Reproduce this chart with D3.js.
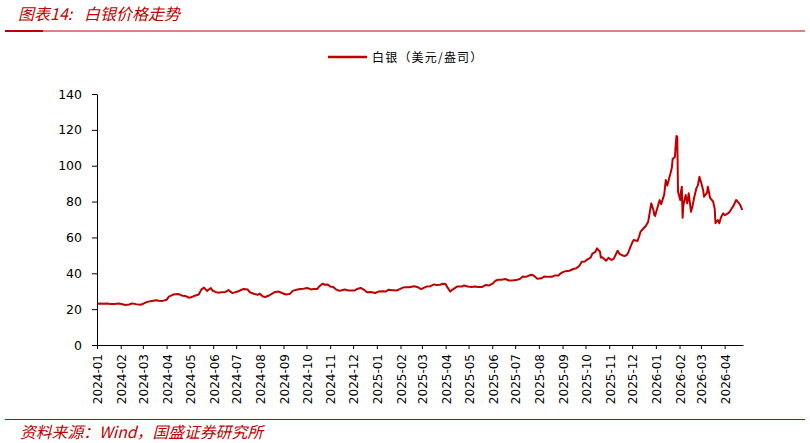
<!DOCTYPE html>
<html>
<head>
<meta charset="utf-8">
<script src="https://cdn.jsdelivr.net/npm/d3@7"></script>
<style>
  body { margin: 0; background: #fff; }
  svg { display: block; }
</style>
</head>
<body>
<div id="chart"></div>
<script>
// silver price, USD/oz
const dates = [
  "2024-01-02","2024-01-05","2024-01-10","2024-01-15","2024-01-19","2024-01-24","2024-01-29",
  "2024-02-02","2024-02-07","2024-02-12","2024-02-16","2024-02-21","2024-02-26","2024-02-29",
  "2024-03-04","2024-03-08","2024-03-13","2024-03-18","2024-03-22","2024-03-27",
  "2024-04-01","2024-04-04","2024-04-09","2024-04-12","2024-04-17","2024-04-22","2024-04-26","2024-04-30",
  "2024-05-03","2024-05-08","2024-05-13","2024-05-17","2024-05-20","2024-05-24","2024-05-29","2024-05-31",
  "2024-06-04","2024-06-07","2024-06-12","2024-06-17","2024-06-21","2024-06-26","2024-06-28",
  "2024-07-03","2024-07-08","2024-07-11","2024-07-16","2024-07-19","2024-07-24","2024-07-29",
  "2024-08-01","2024-08-05","2024-08-08","2024-08-13","2024-08-16","2024-08-21","2024-08-26","2024-08-30",
  "2024-09-04","2024-09-09","2024-09-13","2024-09-18","2024-09-23","2024-09-27",
  "2024-10-02","2024-10-07","2024-10-10","2024-10-15","2024-10-18","2024-10-22","2024-10-25","2024-10-29",
  "2024-11-01","2024-11-05","2024-11-08","2024-11-13","2024-11-15","2024-11-20","2024-11-25","2024-11-29",
  "2024-12-03","2024-12-06","2024-12-11","2024-12-16","2024-12-19","2024-12-24","2024-12-30",
  "2025-01-03","2025-01-08","2025-01-13","2025-01-16","2025-01-22","2025-01-27","2025-01-31",
  "2025-02-04","2025-02-07","2025-02-12","2025-02-14","2025-02-19","2025-02-24","2025-02-28",
  "2025-03-04","2025-03-07","2025-03-12","2025-03-17","2025-03-20","2025-03-25","2025-03-28",
  "2025-04-01","2025-04-03","2025-04-07","2025-04-09","2025-04-11","2025-04-16","2025-04-22","2025-04-25","2025-04-30",
  "2025-05-05","2025-05-09","2025-05-14","2025-05-19","2025-05-23","2025-05-28",
  "2025-06-02","2025-06-05","2025-06-09","2025-06-13","2025-06-18","2025-06-23","2025-06-27",
  "2025-07-02","2025-07-07","2025-07-11","2025-07-15","2025-07-22","2025-07-25","2025-07-30",
  "2025-08-04","2025-08-08","2025-08-13","2025-08-18","2025-08-22","2025-08-27","2025-08-29",
  "2025-09-02","2025-09-05","2025-09-10","2025-09-15","2025-09-19","2025-09-23","2025-09-26","2025-09-30",
  "2025-10-03","2025-10-06","2025-10-08","2025-10-10","2025-10-14","2025-10-16","2025-10-20","2025-10-21","2025-10-23","2025-10-28","2025-10-31",
  "2025-11-04","2025-11-07","2025-11-12","2025-11-14","2025-11-17","2025-11-21","2025-11-24","2025-11-26","2025-11-28",
  "2025-12-01","2025-12-03","2025-12-08","2025-12-10","2025-12-12","2025-12-16","2025-12-19","2025-12-22","2025-12-26","2025-12-29","2025-12-30","2025-12-31",
  "2026-01-02","2026-01-06","2026-01-08","2026-01-12","2026-01-13","2026-01-14","2026-01-16","2026-01-19","2026-01-20","2026-01-22","2026-01-23","2026-01-26","2026-01-27","2026-01-28","2026-01-29","2026-01-30",
  "2026-02-02","2026-02-03","2026-02-04","2026-02-05","2026-02-06","2026-02-09","2026-02-11","2026-02-13","2026-02-16","2026-02-18","2026-02-20","2026-02-23","2026-02-25","2026-02-27",
  "2026-03-02","2026-03-04","2026-03-05","2026-03-09","2026-03-10","2026-03-13","2026-03-17","2026-03-19","2026-03-20","2026-03-23","2026-03-24","2026-03-25","2026-03-27","2026-03-30",
  "2026-04-01","2026-04-03","2026-04-07","2026-04-09","2026-04-13","2026-04-16","2026-04-20","2026-04-22","2026-04-24"
];

const silver = [
  23.0,23.2,23.0,23.2,22.8,22.9,23.2,
  22.9,22.3,22.6,23.2,22.8,22.5,22.7,
  23.6,24.2,24.6,25.0,24.7,24.6,
  25.2,27.0,28.0,28.3,28.4,27.4,27.3,26.4,
  26.6,27.5,28.2,31.2,32.0,30.2,31.8,30.4,
  29.6,29.2,29.4,29.6,30.6,29.0,29.2,
  29.8,30.8,31.2,31.0,29.4,28.6,28.0,
  28.6,27.0,26.8,27.6,28.4,29.6,29.8,29.0,
  28.2,28.4,30.2,30.8,31.2,31.4,
  31.8,31.0,31.2,31.2,32.8,34.2,33.6,33.8,
  32.6,32.4,31.2,30.2,30.4,31.0,30.4,30.4,
  30.4,31.2,31.8,30.6,29.4,29.6,29.0,
  29.8,30.0,29.8,30.8,30.6,30.4,31.2,
  32.0,32.2,32.2,32.4,32.8,32.2,31.2,
  32.0,32.6,32.8,33.8,33.4,33.6,34.2,
  34.0,32.4,29.8,30.6,31.2,32.6,32.6,33.2,32.6,
  32.4,32.6,32.4,32.4,33.4,33.2,
  34.4,35.8,36.4,36.4,36.8,36.0,36.0,
  36.2,36.8,38.2,38.0,39.2,38.8,37.0,
  37.2,38.2,38.0,38.0,38.8,38.8,39.8,
  40.8,41.2,41.4,42.4,42.8,44.2,46.4,46.6,
  47.6,48.3,49.0,51.0,52.0,53.9,52.0,48.8,48.9,47.0,48.6,
  47.4,48.2,52.6,51.0,50.2,49.6,50.2,51.6,53.9,
  57.0,58.6,58.0,60.4,63.2,65.1,66.5,68.8,79.0,75.0,72.5,72.0,
  75.0,80.8,78.6,84.0,88.0,92.0,89.0,94.0,95.5,99.0,103.8,105.0,112.0,116.6,116.2,85.5,
  80.8,86.0,88.3,71.0,78.0,83.7,79.0,84.6,74.3,77.5,82.0,87.4,89.2,93.8,
  89.5,86.0,82.7,85.0,88.3,82.0,79.9,76.0,67.9,69.7,68.8,67.9,71.0,73.4,
  72.5,72.8,74.0,75.3,78.0,80.9,79.0,77.5,75.3
];

const yTicks = [0, 20, 40, 60, 80, 100, 120, 140];
const seriesName = "白银（美元/盎司）";
const titleHead = "图表14:";
const titleText = "白银价格走势";
const sourceText = "资料来源：Wind，国盛证券研究所";

const red = "#c00000";
const cjk = "'Noto Sans CJK SC', sans-serif";
const num = "'DejaVu Sans', sans-serif";

var W = 810, H = 443;
var margin = {top: 94, right: 67, bottom: 98, left: 97};

var svg = d3.select("#chart")
  .append("svg")
    .attr("width", W)
    .attr("height", H);

var parse = d3.timeParse("%Y-%m-%d");
var data = dates.map((d, i) => ({date: parse(d), value: silver[i]}));

// header
svg.append("text")
  .attr("x", 18).attr("y", 20)
  .style("font", "italic 16px " + cjk)
  .style("fill", red)
  .text(titleHead);
svg.append("text")
  .attr("x", 84).attr("y", 20)
  .style("font", "italic 16px " + cjk)
  .style("fill", red)
  .text(titleText);

svg.append("line")
  .attr("x1", 5).attr("x2", 805)
  .attr("y1", 31).attr("y2", 31)
  .attr("stroke", red).attr("stroke-width", 1);
svg.append("line")
  .attr("x1", 5).attr("x2", 43)
  .attr("y1", 31).attr("y2", 31)
  .attr("stroke", red).attr("stroke-width", 2);

// footer
svg.append("line")
  .attr("x1", 5).attr("x2", 805)
  .attr("y1", 419.5).attr("y2", 419.5)
  .attr("stroke", red).attr("stroke-width", 1);

svg.append("text")
  .attr("x", 20).attr("y", 438)
  .style("font", "italic 15.8px " + cjk)
  .style("fill", red)
  .text(sourceText);

// scales
var x = d3.scaleTime()
  .domain([parse("2024-01-01"), parse("2026-04-25")])
  .range([margin.left, W - margin.right]);

var y = d3.scaleLinear()
  .domain([0, 140])
  .range([H - margin.bottom, margin.top]);

// y axis
var yAxis = svg.append("g")
  .attr("transform", "translate(" + margin.left + ",0)")
  .call(d3.axisLeft(y).tickValues(yTicks).tickSize(5).tickSizeOuter(0).tickPadding(10));
yAxis.select(".domain").attr("stroke", "#000");
yAxis.selectAll(".tick line").attr("stroke", "#000");
yAxis.selectAll("text")
  .style("font", "12.5px " + num)
  .style("fill", "#000");

// x axis
var xAxis = svg.append("g")
  .attr("transform", "translate(0," + (H - margin.bottom) + ")")
  .call(d3.axisBottom(x)
    .ticks(d3.timeMonth.every(1))
    .tickFormat(d3.timeFormat("%Y-%m"))
    .tickSize(4)
    .tickSizeOuter(0));
xAxis.select(".domain").attr("stroke", "#000");
xAxis.selectAll(".tick line").attr("stroke", "#000");
xAxis.selectAll("text")
  .style("font", "12px " + num)
  .style("fill", "#000")
  .style("text-anchor", "end")
  .attr("transform", "rotate(-90)")
  .attr("x", -9)
  .attr("y", 0)
  .attr("dy", "0.4em");

// line
svg.append("path")
  .datum(data)
  .attr("fill", "none")
  .attr("stroke", red)
  .attr("stroke-width", 2)
  .attr("stroke-linejoin", "round")
  .attr("d", d3.line()
    .x(d => x(d.date))
    .y(d => y(d.value)));

// legend
var legend = svg.append("g");
legend.append("line")
  .attr("x1", 328).attr("x2", 367)
  .attr("y1", 57).attr("y2", 57)
  .attr("stroke", red).attr("stroke-width", 2.5);
legend.append("text")
  .attr("x", 372).attr("y", 61.5)
  .style("font", "12px " + cjk)
  .style("letter-spacing", "1.2px")
  .style("fill", "#000")
  .text(seriesName);
</script>
</body>
</html>
